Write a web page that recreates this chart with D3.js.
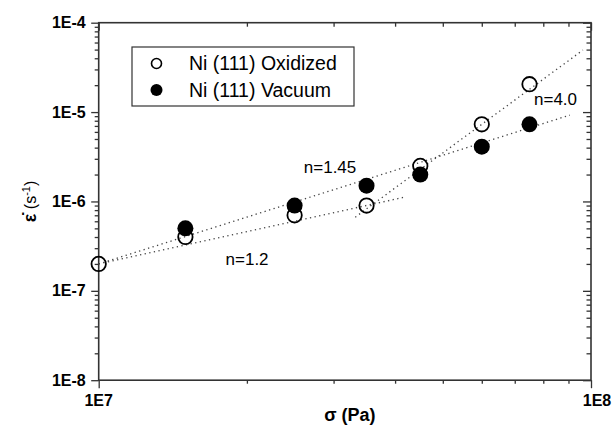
<!DOCTYPE html>
<html>
<head>
<meta charset="utf-8">
<script src="https://cdn.jsdelivr.net/npm/d3@7"></script>
<style>
  body { margin: 0; background: #fff; }
  text { font-family: "Liberation Sans", Arial, Helvetica, sans-serif; }
</style>
</head>
<body>
<svg id="area" width="612" height="427"></svg>
<script>
// measured points
const sigmaOx = [1e7, 1.5e7, 2.5e7, 3.5e7, 4.5e7, 6e7, 7.5e7];
const rateOx = [2e-7, 4e-7, 7e-7, 9e-7, 2.5e-6, 7.3e-6, 2.05e-5];
const sigmaVac = [1.5e7, 2.5e7, 3.5e7, 4.5e7, 6e7, 7.5e7];
const rateVac = [5e-7, 9e-7, 1.5e-6, 2e-6, 4.1e-6, 7.3e-6];

// fitted power law lines (end points) and their labels
const fitNames = ["n=1.2", "n=1.45", "n=4.0"];
const fitSigma = [[1e7, 4.19e7], [1e7, 9.06e7], [3.32e7, 9.63e7]];
const fitRate = [[2e-7, 1.12e-6], [2e-7, 9.25e-6], [6.67e-7, 4.94e-5]];
const labelSigma = [1.81e7, 2.61e7, 7.66e7];
const labelRate = [1.94e-7, 2.08e-6, 1.2e-5];

const legendNames = ["Ni (111) Oxidized", "Ni (111) Vacuum"];
const xTickVals = [1e7, 1e8];
const xTickText = ["1E7", "1E8"];
const yTickVals = [1e-8, 1e-7, 1e-6, 1e-5, 1e-4];
const yTickText = ["1E-8", "1E-7", "1E-6", "1E-5", "1E-4"];

const pL = 98.7, pR = 591, pT = 22.7, pB = 380.2;
const svg = d3.select("#area");

const x = d3.scaleLog().domain([1e7, 1e8]).range([pL, pR]);
const y = d3.scaleLog().domain([1e-8, 1e-4]).range([pB, pT]);

// minor tick values
let xMinor = [];
for (let k = 2; k <= 9; k++) xMinor.push(k * 1e7);
let yMinor = [];
yTickVals.slice(0, 4).forEach(d => {
  for (let k = 2; k <= 9; k++) yMinor.push(k * d);
});

const axColor = "#333";
function styleAxis(g) {
  g.select(".domain").remove();
  g.selectAll("line").attr("stroke", axColor).attr("stroke-width", 1.3);
  g.selectAll("text").remove();
}

// left: outward ticks
svg.append("g").attr("transform", "translate(" + pL + ",0)")
  .call(d3.axisLeft(y).tickValues(yTickVals).tickSize(7.5)).call(styleAxis);
svg.append("g").attr("transform", "translate(" + pL + ",0)")
  .call(d3.axisLeft(y).tickValues(yMinor).tickSize(4)).call(styleAxis);
// right: inward ticks
svg.append("g").attr("transform", "translate(" + pR + ",0)")
  .call(d3.axisRight(y).tickValues(yTickVals).tickSize(-8)).call(styleAxis);
svg.append("g").attr("transform", "translate(" + pR + ",0)")
  .call(d3.axisRight(y).tickValues(yMinor).tickSize(-4.5)).call(styleAxis);
// bottom: outward ticks
svg.append("g").attr("transform", "translate(0," + pB + ")")
  .call(d3.axisBottom(x).tickValues(xTickVals).tickSize(8)).call(styleAxis);
svg.append("g").attr("transform", "translate(0," + pB + ")")
  .call(d3.axisBottom(x).tickValues(xMinor).tickSize(3.5)).call(styleAxis);
// top: inward ticks
svg.append("g").attr("transform", "translate(0," + pT + ")")
  .call(d3.axisTop(x).tickValues(xTickVals).tickSize(-8)).call(styleAxis);
svg.append("g").attr("transform", "translate(0," + pT + ")")
  .call(d3.axisTop(x).tickValues(xMinor).tickSize(-4)).call(styleAxis);

// frame
svg.append("rect")
  .attr("x", pL).attr("y", pT)
  .attr("width", pR - pL).attr("height", pB - pT)
  .attr("fill", "none").attr("stroke", axColor).attr("stroke-width", 1.6);

// tick labels
svg.selectAll(".ylab").data(yTickVals).enter().append("text")
  .attr("x", pL - 13).attr("y", d => y(d) + 5.5)
  .attr("text-anchor", "end").attr("font-size", 16).attr("font-weight", "bold")
  .text((d, i) => yTickText[i]);
svg.selectAll(".xlab").data(xTickVals).enter().append("text")
  .attr("x", (d, i) => x(d) + (i == 1 ? 6 : 0)).attr("y", pB + 26)
  .attr("text-anchor", "middle").attr("font-size", 16).attr("font-weight", "bold")
  .text((d, i) => xTickText[i]);

// axis titles
svg.append("text")
  .attr("x", (pL + pR) / 2 + 5).attr("y", 421)
  .attr("text-anchor", "middle").attr("font-size", 18).attr("font-weight", "bold")
  .text("σ (Pa)");
const yt = svg.append("text")
  .attr("transform", "translate(36," + ((pT + pB) / 2) + ") rotate(-90)")
  .attr("text-anchor", "middle").attr("font-size", 16);
yt.append("tspan").attr("font-weight", "bold").attr("font-size", 18).text("ε\u0307");
yt.append("tspan").text(" (s");
yt.append("tspan").attr("font-size", 11).attr("dy", -6).text("-1");
yt.append("tspan").attr("dy", 6).text(")");

// fit lines
const line = d3.line().x(d => x(d[0])).y(d => y(d[1]));
fitSigma.forEach((s, i) => {
  svg.append("path")
    .datum([[s[0], fitRate[i][0]], [s[1], fitRate[i][1]]])
    .attr("d", line)
    .attr("fill", "none").attr("stroke", "#444")
    .attr("stroke-width", 1.3).attr("stroke-dasharray", "1.3,3.4");
});
svg.selectAll(".fitlab").data(fitNames).enter().append("text")
  .attr("x", (d, i) => x(labelSigma[i])).attr("y", (d, i) => y(labelRate[i]))
  .attr("font-size", 17)
  .text(d => d);

// markers
svg.selectAll(".ox").data(sigmaOx).enter().append("circle")
  .attr("cx", d => x(d)).attr("cy", (d, i) => y(rateOx[i]))
  .attr("r", 7.2).attr("fill", "none").attr("stroke", "#000").attr("stroke-width", 1.8);
svg.selectAll(".vac").data(sigmaVac).enter().append("circle")
  .attr("cx", d => x(d)).attr("cy", (d, i) => y(rateVac[i]))
  .attr("r", 8).attr("fill", "#000");

// legend
svg.append("rect")
  .attr("x", 132).attr("y", 47).attr("width", 222).attr("height", 59)
  .attr("fill", "#fff").attr("stroke", axColor).attr("stroke-width", 1.2);
legendNames.forEach((name, i) => {
  const ly = 63.5 + i * 26.5;
  svg.append("circle")
    .attr("cx", 156.5).attr("cy", ly).attr("r", i == 0 ? 5 : 6)
    .attr("fill", i == 0 ? "none" : "#000")
    .attr("stroke", "#000").attr("stroke-width", i == 0 ? 1.6 : 0);
  svg.append("text")
    .attr("x", 189).attr("y", ly + 6.5).attr("font-size", 19.5)
    .text(name);
});
</script>
</body>
</html>
